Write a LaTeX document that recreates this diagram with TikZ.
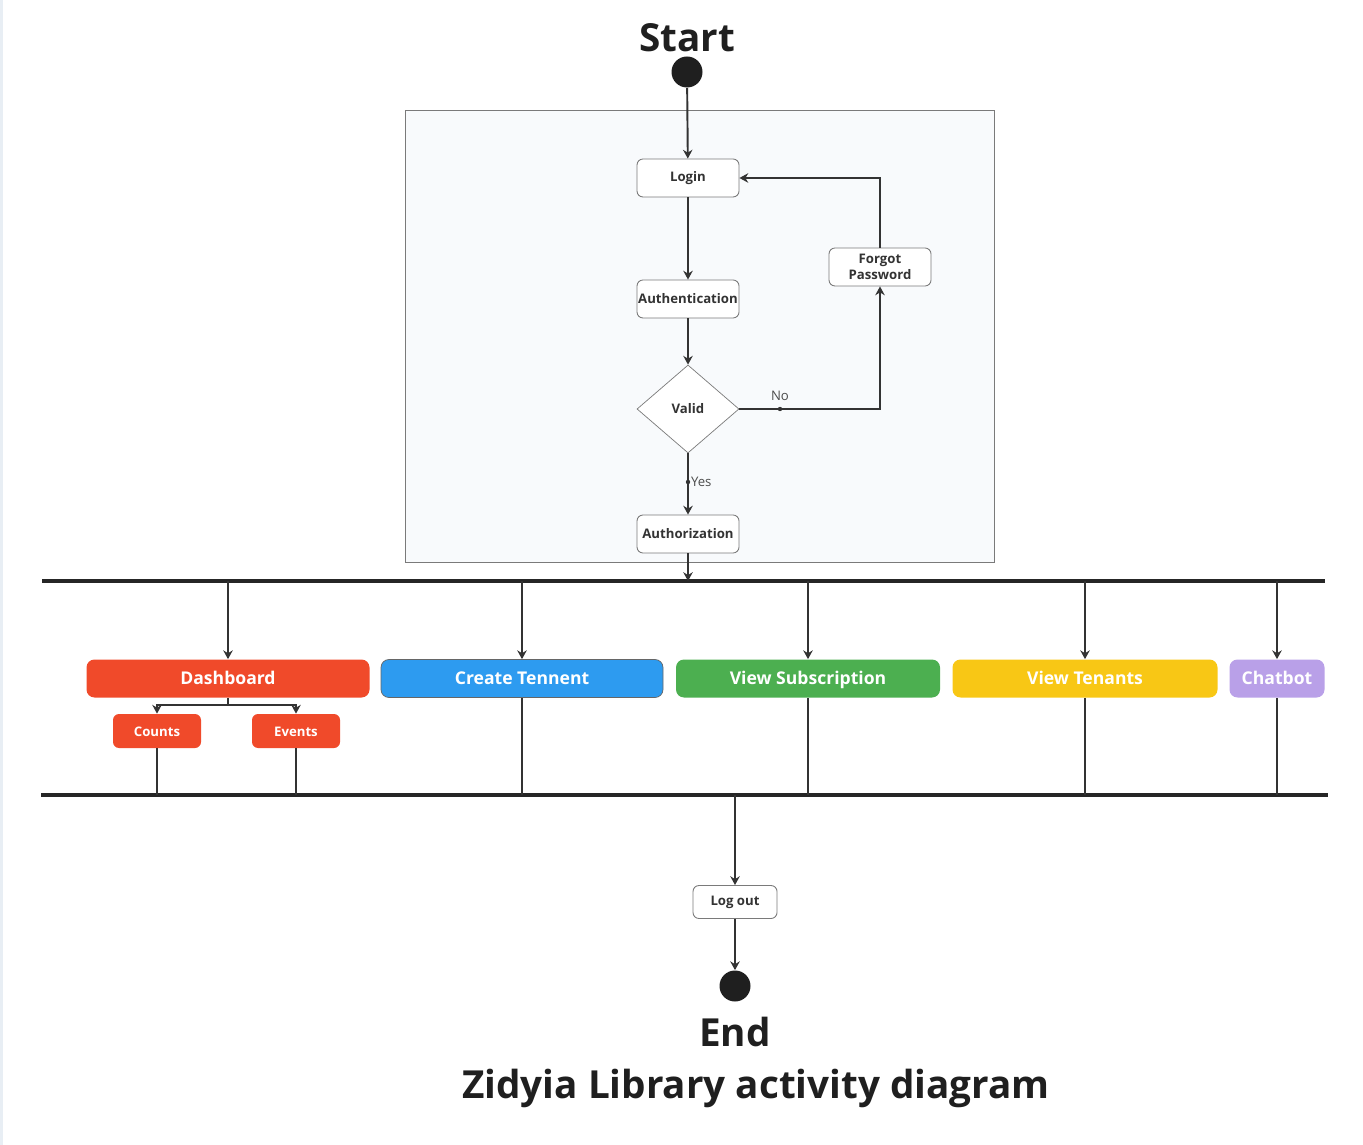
\documentclass[tikz,border=0pt]{standalone}
\usepackage{fontspec}
\setmainfont{Open Sans}
\usetikzlibrary{arrows.meta,shapes.geometric}

\newlength{\du}
\setlength{\du}{0.02cm}

\definecolor{inkgray}{HTML}{333333}
\definecolor{boxgray}{HTML}{7A7A7A}
\definecolor{framefill}{HTML}{F8FAFC}
\definecolor{edgetint}{HTML}{E8EEF4}
\definecolor{dashred}{HTML}{F04A2A}
\definecolor{tennblue}{HTML}{2D9BF0}
\definecolor{subgreen}{HTML}{4CAF50}
\definecolor{tenyellow}{HTML}{F8C715}
\definecolor{chatpurple}{HTML}{B9A0E8}

\tikzset{
  actbox/.style={draw=boxgray, fill=white, line width=0.5pt, rounded corners=6\du,
    minimum width=102\du, minimum height=38\du, inner sep=0pt, align=center,
    font=\fontsize{7.5}{9}\selectfont\bfseries, text=inkgray},
  decide/.style={diamond, draw=boxgray, fill=white, line width=0.4pt,
    minimum width=102\du, minimum height=88\du, inner sep=0pt,
    font=\fontsize{7.5}{9}\selectfont\bfseries, text=inkgray},
  task/.style={rounded corners=8\du, minimum height=38\du, inner sep=0pt,
    text height=1.5ex, text depth=0.3ex,
    font=\fontsize{10}{12}\selectfont\bfseries, text=white},
  subtask/.style={fill=dashred, rounded corners=6\du, minimum width=88\du,
    minimum height=34\du, inner sep=0pt, text height=1.5ex, text depth=0.3ex,
    font=\fontsize{7.5}{9}\selectfont\bfseries, text=white},
  blob/.style={circle, fill=black!88, minimum size=31\du, inner sep=0pt},
  flow/.style={draw=inkgray, line width=1.1pt, -{Stealth[length=5pt, width=5.4pt]}},
  link/.style={draw=inkgray, line width=1.1pt},
  bar/.style={draw=black!85, line width=2.8pt},
  big/.style={font=\fontsize{22}{26}\selectfont\bfseries, text=black!88},
  guard/.style={font=\fontsize{7.5}{9}\selectfont, text=black!70}
}

\begin{document}
\begin{tikzpicture}
\pgftransformxscale{1.000000}
\pgftransformyscale{-1.000000}
\useasboundingbox (0\du,0\du) rectangle (1363\du,1145\du);
\draw[color=edgetint, line width=3\du] (1\du,0\du) -- (1\du,1145\du);

% login block
\draw[draw=boxgray, fill=framefill, line width=0.5pt] (405\du,110\du) rectangle (994\du,562\du);

\node[big] (starttxt) at (687\du,38\du) {Start};
\node[blob] (start) at (687\du,72\du) {};

\node[actbox] (login) at (688\du,178\du) {Login};
\node[actbox] (auth) at (688\du,299\du) {Authentication};
\node[decide] (valid) at (688\du,409\du) {Valid};
\node[actbox] (authz) at (688\du,534\du) {Authorization};
\node[actbox] (forgot) at (880\du,267\du) {Forgot\\Password};

\draw[flow] (start) -- (login);
\draw[flow] (login) -- (auth);
\draw[flow] (auth) -- (valid);
\draw[flow] (valid) -- (authz);
\draw[flow] (valid.east) -| (forgot.south);
\draw[flow] (forgot.north) |- (login.east);

\coordinate (nodot) at (780\du,409\du);
\coordinate (yesdot) at (688\du,482\du);
\fill[inkgray] (nodot) circle (2.2\du);
\fill[inkgray] (yesdot) circle (2.2\du);
\node[guard] (nolbl) at (780\du,396\du) {No};
\node[guard, anchor=west, inner sep=1pt] (yeslbl) at (689\du,482\du) {Yes};

% fork and join bars
\coordinate (forkL) at (42\du,581\du);
\coordinate (forkR) at (1325\du,581\du);
\coordinate (joinL) at (41\du,795\du);
\coordinate (joinR) at (1328\du,795\du);
\draw[bar] (forkL) -- (forkR);
\draw[bar] (joinL) -- (joinR);
\draw[flow] (authz) -- (authz |- forkL);

\node[task, fill=dashred, minimum width=283\du] (dash) at (228\du,678.5\du) {Dashboard};
\node[task, fill=tennblue, draw=black!60, line width=0.4pt, minimum width=282\du] (create) at (522\du,678.5\du) {Create Tennent};
\node[task, fill=subgreen, minimum width=264\du] (viewsub) at (808\du,678.5\du) {View Subscription};
\node[task, fill=tenyellow, minimum width=265\du] (viewten) at (1085\du,678.5\du) {View Tenants};
\node[task, fill=chatpurple, minimum width=95\du] (chat) at (1277\du,678.5\du) {Chatbot};

\node[subtask] (counts) at (157\du,731\du) {Counts};
\node[subtask] (events) at (296\du,731\du) {Events};

\foreach \t in {dash,create,viewsub,viewten,chat}
  \draw[flow] (\t.north |- forkL) -- (\t.north);

\draw[link] (dash.south) -- ++(0\du,7\du) coordinate (split);
\draw[flow] (split) -| (counts.north);
\draw[flow] (split) -| (events.north);

\foreach \t in {counts,events,create,viewsub,viewten,chat}
  \draw[link] (\t.south) -- (\t.south |- joinL);

% end part
\node[actbox, minimum width=84\du, minimum height=33\du] (logout) at (735\du,902\du) {Log out};
\node[blob] (finish) at (735\du,986\du) {};
\node[big] (endtxt) at (735\du,1032\du) {End};
\node[big] (title) at (756\du,1088\du) {Zidyia Library activity diagram};

\draw[flow] (logout.north |- joinL) -- (logout);
\draw[flow] (logout) -- (finish);
\end{tikzpicture}
\end{document}
